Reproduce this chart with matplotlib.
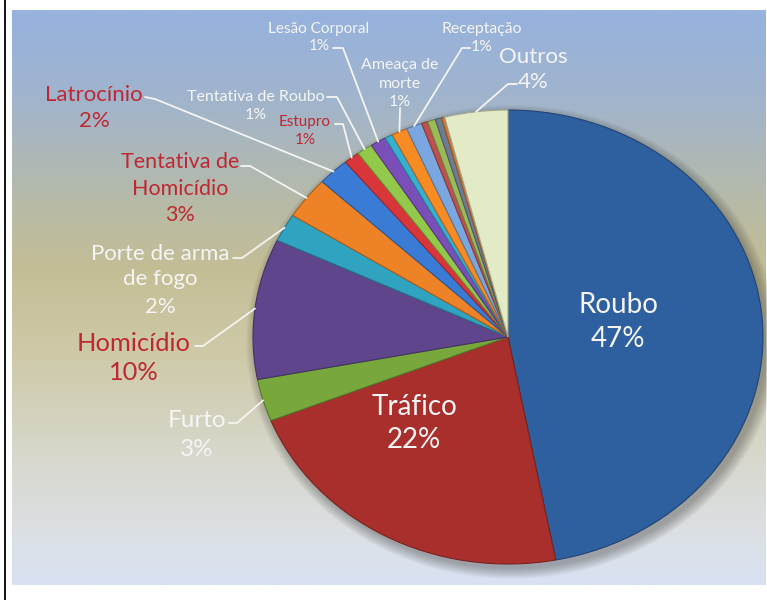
import numpy as np
import matplotlib
matplotlib.use("Agg")
import matplotlib.pyplot as plt
from matplotlib.patches import Ellipse
from matplotlib.lines import Line2D
from matplotlib.colors import to_rgb

# ---------------- data ----------------
categories = ["Roubo", "Tráfico", "Furto", "Homicídio", "Porte de arma\nde fogo",
              "Tentativa de\nHomicídio", "Latrocínio", "Estupro", "Tentativa de Roubo",
              "Lesão Corporal", "", "Ameaça de\nmorte", "Receptação",
              "", "", "", "", "Outros"]
values = [47, 22, 3, 10, 2, 3, 2, 1, 1, 1, 0.5, 1, 1, 0.4, 0.5, 0.4, 0.2, 4]
colors = ["#2E5F9E", "#A92F2D", "#78A83C", "#5F468C", "#2FA3C0",
          "#EE8226", "#3A7BD5", "#D9363A", "#93C94A", "#7A4FB8",
          "#35B0D0", "#F98B25", "#7BA7E0", "#C0504D", "#9BBB59",
          "#6E7B94", "#D07A35", "#E2EBC5"]

RED = "#BE2832"
WHITE = "#F5F5F5"

W, H = 767, 600
fig = plt.figure(figsize=(W / 100, H / 100), dpi=100)
fig.patch.set_facecolor("white")

# background gradient panel
px0, py0, px1, py1 = 12, 10, 766, 585
bg = fig.add_axes([px0 / W, 1 - py1 / H, (px1 - px0) / W, (py1 - py0) / H])
stops = [(0.00, (150, 178, 222)), (0.15, (160, 180, 205)), (0.33, (182, 186, 168)),
         (0.45, (196, 190, 150)), (0.60, (206, 202, 168)), (0.78, (216, 216, 205)),
         (0.93, (220, 225, 232)), (1.00, (216, 226, 242))]
n = 400
t = np.linspace(0, 1, n)
img = np.zeros((n, 2, 3))
for ch in range(3):
    col = np.interp(t, [s[0] for s in stops], [s[1][ch] / 255 for s in stops])
    img[:, 0, ch] = col
    img[:, 1, ch] = col
bg.imshow(img, aspect="auto", extent=[0, 1, 0, 1], origin="upper", interpolation="bilinear")
bg.axis("off")

fig.add_artist(Line2D([4.5 / W, 4.5 / W], [0, 1], color="black", lw=1.3))

# pie axes (elliptical, perspective-like)
CX, CY, RX, RY = 508, 337, 255, 227
ax = fig.add_axes([0, 0, 1, 1])
ax.patch.set_alpha(0)


def P(x, y):
    return ((x - CX) / RX, (CY - y) / RY)


# soft shadow
for k in range(8):
    ax.add_patch(Ellipse(P(CX + 4, CY + 5), 2 + 0.012 * k, 2 + 0.012 * k,
                         facecolor="#303030", edgecolor="none", alpha=0.05, zorder=1))


def darken(c, f=0.72):
    r, g, b = to_rgb(c)
    return (r * f, g * f, b * f)


wedges, _ = ax.pie(values, colors=colors, startangle=90, counterclock=False,
                   radius=1, wedgeprops=dict(linewidth=0.8))
for w, c in zip(wedges, colors):
    w.set_edgecolor(darken(c))
    w.set_zorder(2)

ax.set_aspect("auto")
ax.set_xlim(-CX / RX, (W - CX) / RX)
ax.set_ylim(-(H - CY) / RY, CY / RY)
ax.axis("off")

total = sum(values)
pcts = [f"{round(v / total * 100):.0f}%" for v in values]

FONT = "Lato"


def draw_lines(lines, x, ys, size, color, weight="normal"):
    cap = 0.36 * size * 100 / 72
    for s, y in zip(lines, ys):
        ax.text(*P(x, y + cap), s, ha="center", va="baseline", fontsize=size,
                color=color, family=FONT, weight=weight, zorder=5)


# label layout: index -> (x, line ys, fontsize, color, leader start, leader elbow)
layout = {
    0: (618, [303, 337], 20, WHITE, None, None),
    1: (414, [405, 438], 20, WHITE, None, None),
    2: (197, [418, 447], 17.5, WHITE, (229, 423), (237, 423)),
    3: (134, [342, 371], 18.3, RED, (195, 346), (203, 346)),
    4: (160, [252, 277, 305], 16, WHITE, (233, 258), (242, 258)),
    5: (180, [160, 187, 213], 15.5, RED, (241, 166), (250, 166)),
    6: (94, [93, 119], 16, RED, (145, 97), (155, 99)),
    7: (305, [120, 138], 11, RED, (335, 124), (343, 124)),
    8: (256, [95, 113], 11.5, WHITE, (327, 97), (337, 97)),
    9: (319, [27, 44], 11, WHITE, (333, 48), (343, 48)),
    11: (400, [63, 82, 100], 11.5, WHITE, (400, 108), (400, 110)),
    12: (482, [27, 45], 11.3, WHITE, (470, 48), (462, 48)),
    17: (533, [55, 80], 16, WHITE, (517, 84), (508, 84)),
}

for i, (x, ys, size, color, s0, s1) in layout.items():
    lines = categories[i].split("\n") + [pcts[i]]
    draw_lines(lines, x, ys, size, color)
    if s0 is not None:
        w = wedges[i]
        mid = np.deg2rad((w.theta1 + w.theta2) / 2)
        end = (np.cos(mid), np.sin(mid))
        xs = [P(*s0)[0], P(*s1)[0], end[0]]
        yv = [P(*s0)[1], P(*s1)[1], end[1]]
        ax.plot(xs, yv, color="#F4F4F4", lw=1.3, zorder=4, solid_capstyle="round")

fig.savefig("out.png", dpi=100, facecolor="white")
